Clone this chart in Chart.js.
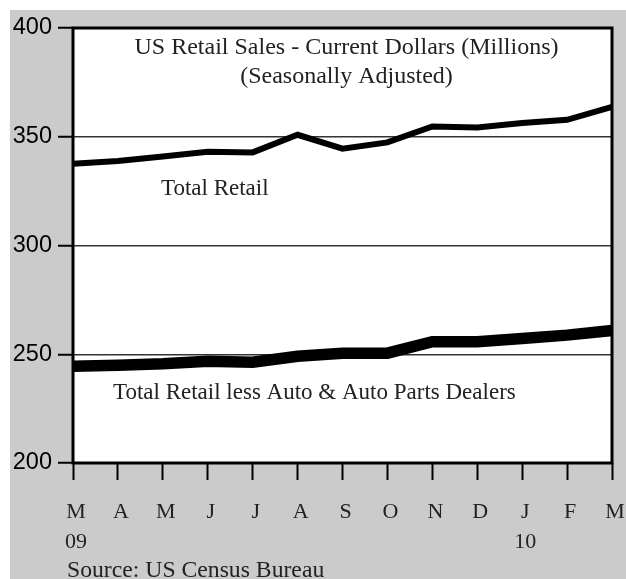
<!DOCTYPE html>
<html>
<head>
<meta charset="utf-8">
<script src="https://cdn.jsdelivr.net/npm/chart.js@4.4.1/dist/chart.umd.min.js"></script>
<style>
    html, body { margin: 0; padding: 0; background: #fff; }
    canvas { display: block; }
</style>
</head>
<body>
<canvas id="retailChart" width="626" height="579"></canvas>
<script>
// US retail sales, Mar 2009 - Mar 2010 (billions)
const months = ['M', 'A', 'M', 'J', 'J', 'A', 'S', 'O', 'N', 'D', 'J', 'F', 'M'];
const years = ['09', '', '', '', '', '', '', '', '', '', '10', '', ''];
const totalRetail = [337.6, 338.9, 340.9, 343.1, 342.8, 350.9, 344.5, 347.4, 354.7, 354.3, 356.3, 357.8, 363.7];
const lessAuto = [244.5, 244.9, 245.6, 246.8, 246.3, 249.1, 250.5, 250.5, 255.8, 255.7, 257.2, 258.8, 260.9];
const yMin = 200, yMax = 400, yStep = 50;

const serif = "'Liberation Serif', 'Times New Roman', serif";
const sans = "'Liberation Sans', Arial, sans-serif";

// gray page, white plot box, heavy frame and the text printed inside the box
const framePlugin = {
    id: 'frame',
    beforeDraw: function (chart) {
        const { ctx, chartArea: a, width, height } = chart;
        ctx.save();
        ctx.fillStyle = '#fff';
        ctx.fillRect(0, 0, width, height);
        ctx.fillStyle = '#cbcbcb';
        ctx.fillRect(10, 10, width - 10, height - 10);
        ctx.fillStyle = '#fff';
        ctx.fillRect(a.left, a.top, a.right - a.left, a.bottom - a.top);
        ctx.restore();
    },
    afterDraw: function (chart) {
        const { ctx, chartArea: a } = chart;
        ctx.save();
        ctx.strokeStyle = '#000';
        ctx.lineWidth = 3;
        ctx.strokeRect(a.left, a.top, a.right - a.left, a.bottom - a.top);

        ctx.fillStyle = '#222';
        ctx.textBaseline = 'alphabetic';
        ctx.textAlign = 'center';
        ctx.font = '24px ' + serif;
        const cx = (a.left + a.right) / 2 + 4;
        ctx.fillText('US Retail Sales - Current Dollars (Millions)', cx, 54);
        ctx.fillText('(Seasonally Adjusted)', cx, 83);

        ctx.font = '23px ' + serif;
        ctx.textAlign = 'left';
        ctx.fillText('Total Retail', 161, 195);
        ctx.fillText('Total Retail less Auto & Auto Parts Dealers', 113, 399);
        ctx.font = '23.7px ' + serif;
        ctx.fillText('Source: US Census Bureau', 67, 577);
        ctx.restore();
    }
};

new Chart(document.getElementById('retailChart'), {
    type: 'line',
    data: {
        labels: months,
        datasets: [
            {
                label: 'Total Retail',
                data: totalRetail,
                borderColor: '#000',
                borderWidth: 6,
                pointRadius: 0,
                tension: 0,
                fill: false
            },
            {
                label: 'Total Retail less Auto & Auto Parts Dealers',
                data: lessAuto,
                borderColor: '#000',
                borderWidth: 11.5,
                pointRadius: 0,
                tension: 0,
                fill: false
            }
        ]
    },
    options: {
        responsive: false,
        animation: false,
        devicePixelRatio: 1,
        layout: {
            padding: { left: 0, top: 28, right: 14, bottom: 0 }
        },
        plugins: {
            legend: { display: false },
            tooltip: { enabled: false }
        },
        scales: {
            x: {
                type: 'category',
                offset: false,
                afterFit: function (scale) {
                    scale.height = 116;
                    scale.paddingLeft = 0;
                    scale.paddingRight = 0;
                },
                border: { display: false },
                grid: {
                    drawOnChartArea: false,
                    drawTicks: true,
                    tickLength: 17,
                    tickColor: '#000',
                    tickWidth: 2
                },
                ticks: {
                    color: '#222',
                    padding: 17,
                    maxRotation: 0,
                    autoSkip: false,
                    labelOffset: 3,
                    font: { family: serif, size: 22, lineHeight: 1.36 },
                    callback: function (value, index) {
                        return years[index] ? [months[index], years[index]] : months[index];
                    }
                }
            },
            y: {
                min: yMin,
                max: yMax,
                afterFit: function (scale) {
                    scale.width = 73;
                    scale.paddingTop = 0;
                    scale.paddingBottom = 0;
                },
                border: { display: false },
                grid: {
                    color: function (c) {
                        return (c.tick && (c.tick.value === yMin || c.tick.value === yMax)) ? 'rgba(0,0,0,0)' : '#333';
                    },
                    lineWidth: 1.5,
                    tickLength: 15,
                    tickColor: '#000',
                    tickWidth: 2
                },
                ticks: {
                    stepSize: yStep,
                    color: '#000',
                    padding: 6,
                    font: { family: sans, size: 23.5 }
                }
            }
        }
    },
    plugins: [framePlugin]
});
</script>
</body>
</html>
